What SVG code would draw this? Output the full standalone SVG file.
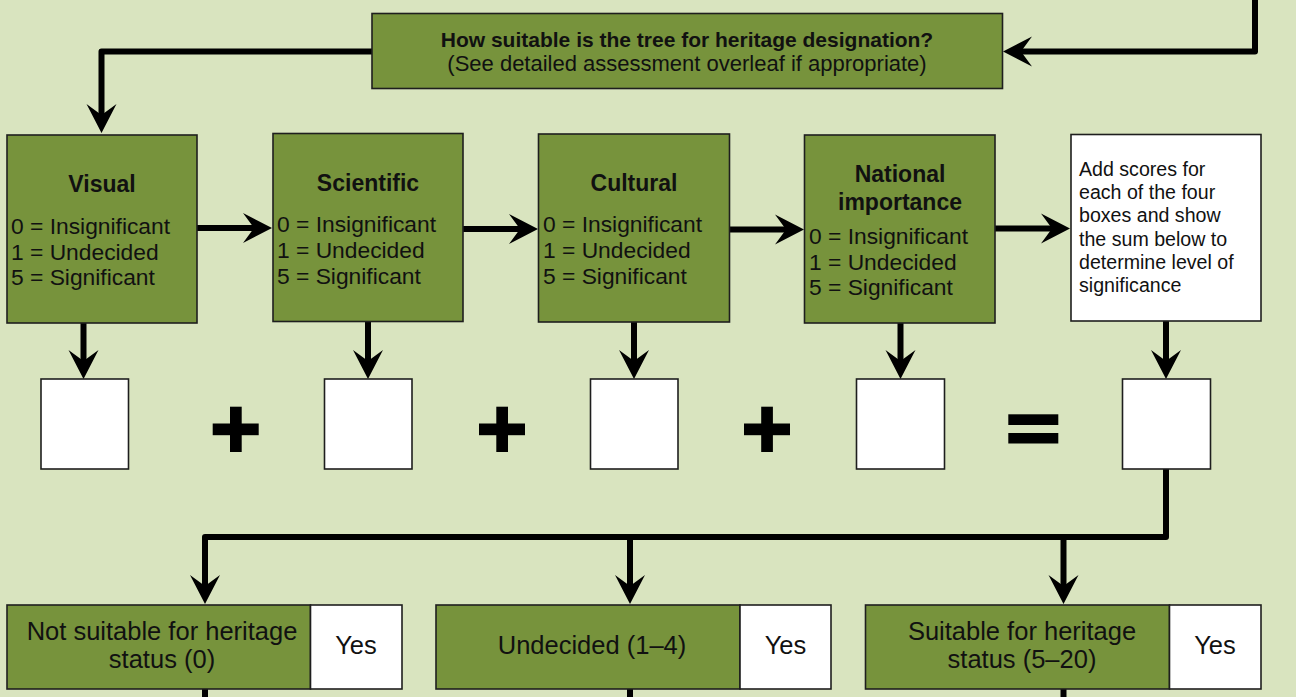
<svg xmlns="http://www.w3.org/2000/svg" width="1296" height="697" viewBox="0 0 1296 697">
  <defs>
    <style>
      .bg { fill: #d9e4bf; }
      .box { fill: #77933c; stroke: #1e1e1e; stroke-width: 1.6; }
      .wbox { fill: #ffffff; stroke: #1e1e1e; stroke-width: 1.6; }
      .wire { fill: none; stroke: #000; stroke-width: 6; stroke-linejoin: round; }
      .op { fill: #000; }
      text { font-family: "Liberation Sans", Arial, sans-serif; fill: #111; }
      .head { font-size: 23px; font-weight: bold; text-anchor: middle; }
      .opt { font-size: 22.8px; }
      .note { font-size: 19.6px; }
      .q1 { font-size: 21px; font-weight: bold; text-anchor: middle; }
      .q2 { font-size: 22px; text-anchor: middle; }
      .res { font-size: 25.5px; text-anchor: middle; }
    </style>
    <!-- concave arrowhead; the path end sits 17px behind the tip -->
    <marker id="arrow" markerUnits="userSpaceOnUse" markerWidth="40" markerHeight="40" refX="0" refY="0" orient="auto" overflow="visible" viewBox="-20 -20 40 40">
      <path d="M17,0 L-12,-15 L-1,0 L-12,15 Z" fill="#000"/>
    </marker>
  </defs>

  <rect class="bg" x="0" y="0" width="1296" height="697"/>

  <!-- connectors -->
  <g id="connectors">
    <path class="wire" d="M1255,0 V51.5 H1020" marker-end="url(#arrow)"/>
    <path class="wire" d="M372,51.5 H101.5 V116" marker-end="url(#arrow)"/>
    <path class="wire" d="M197,228 H255" marker-end="url(#arrow)"/>
    <path class="wire" d="M463,229 H521" marker-end="url(#arrow)"/>
    <path class="wire" d="M729,229.5 H787" marker-end="url(#arrow)"/>
    <path class="wire" d="M995,228.5 H1053" marker-end="url(#arrow)"/>
    <path class="wire" d="M83.5,323 V362" marker-end="url(#arrow)"/>
    <path class="wire" d="M368,321 V362" marker-end="url(#arrow)"/>
    <path class="wire" d="M634,322 V362" marker-end="url(#arrow)"/>
    <path class="wire" d="M900.5,323 V362" marker-end="url(#arrow)"/>
    <path class="wire" d="M1166,321 V362" marker-end="url(#arrow)"/>
    <path class="wire" d="M1166,469 V537 H205 V587" marker-end="url(#arrow)"/>
    <path class="wire" d="M630,537 V587" marker-end="url(#arrow)"/>
    <path class="wire" d="M1063.5,537 V587" marker-end="url(#arrow)"/>
    <path class="wire" d="M205,689 V697"/>
    <path class="wire" d="M630,689 V697"/>
    <path class="wire" d="M1063.5,689 V697"/>
  </g>

  <g id="question">
    <rect class="box" x="372" y="13.5" width="630.5" height="75"/>
    <text class="q1" x="687" y="47">How suitable is the tree for heritage designation?</text>
    <text class="q2" x="687" y="71">(See detailed assessment overleaf if appropriate)</text>
  </g>

  <g id="visual">
    <rect class="box" x="7" y="135" width="190" height="188"/>
    <text class="head" x="102" y="192">Visual</text>
    <text class="opt" x="11" y="234">0 = Insignificant</text>
    <text class="opt" x="11" y="259.5">1 = Undecided</text>
    <text class="opt" x="11" y="285">5 = Significant</text>
  </g>

  <g id="scientific">
    <rect class="box" x="273" y="133.5" width="190" height="188"/>
    <text class="head" x="368" y="191">Scientific</text>
    <text class="opt" x="277" y="232">0 = Insignificant</text>
    <text class="opt" x="277" y="258">1 = Undecided</text>
    <text class="opt" x="277" y="283.5">5 = Significant</text>
  </g>

  <g id="cultural">
    <rect class="box" x="538.5" y="134" width="191" height="188"/>
    <text class="head" x="634" y="191">Cultural</text>
    <text class="opt" x="543" y="232">0 = Insignificant</text>
    <text class="opt" x="543" y="258">1 = Undecided</text>
    <text class="opt" x="543" y="283.5">5 = Significant</text>
  </g>

  <g id="national">
    <rect class="box" x="804.5" y="135" width="190.5" height="188"/>
    <text class="head" x="900" y="182">National</text>
    <text class="head" x="900" y="210">importance</text>
    <text class="opt" x="809" y="244">0 = Insignificant</text>
    <text class="opt" x="809" y="269.5">1 = Undecided</text>
    <text class="opt" x="809" y="295">5 = Significant</text>
  </g>

  <g id="sum-note">
    <rect class="wbox" x="1071" y="134.5" width="190" height="186.5"/>
    <text class="note" x="1079" y="176">Add scores for</text>
    <text class="note" x="1079" y="199">each of the four</text>
    <text class="note" x="1079" y="222">boxes and show</text>
    <text class="note" x="1079" y="246">the sum below to</text>
    <text class="note" x="1079" y="269">determine level of</text>
    <text class="note" x="1079" y="292">significance</text>
  </g>

  <!-- score boxes and operators -->
  <g id="score-visual"><rect class="wbox" x="41" y="379" width="87.5" height="90"/></g>
  <g id="plus-1" class="op">
    <rect x="212.7" y="423.5" width="46" height="11.7"/>
    <rect x="230" y="406.7" width="11.7" height="45.3"/>
  </g>
  <g id="score-scientific"><rect class="wbox" x="324.5" y="379" width="87.5" height="90"/></g>
  <g id="plus-2" class="op">
    <rect x="479" y="423.5" width="46" height="11.7"/>
    <rect x="496.3" y="406.7" width="11.7" height="45.3"/>
  </g>
  <g id="score-cultural"><rect class="wbox" x="590.5" y="379" width="87.5" height="90"/></g>
  <g id="plus-3" class="op">
    <rect x="744" y="423.5" width="46" height="11.7"/>
    <rect x="761.2" y="406.7" width="11.7" height="45.3"/>
  </g>
  <g id="score-national"><rect class="wbox" x="856.5" y="379" width="88" height="90"/></g>
  <g id="equals" class="op">
    <rect x="1008.3" y="414.3" width="50" height="10.7"/>
    <rect x="1008.3" y="433" width="50" height="10.5"/>
  </g>
  <g id="score-total"><rect class="wbox" x="1122.5" y="379" width="88" height="90"/></g>

  <!-- outcomes -->
  <g id="not-suitable">
    <rect class="box" x="7" y="605" width="303.5" height="84"/>
    <rect class="wbox" x="310.5" y="605" width="91.5" height="84"/>
    <text class="res" x="162" y="640">Not suitable for heritage</text>
    <text class="res" x="162" y="668">status (0)</text>
    <text class="res" x="356" y="654">Yes</text>
  </g>

  <g id="undecided">
    <rect class="box" x="436" y="605" width="304" height="84"/>
    <rect class="wbox" x="740" y="605" width="91" height="84"/>
    <text class="res" x="592" y="654">Undecided (1–4)</text>
    <text class="res" x="785.5" y="654">Yes</text>
  </g>

  <g id="suitable">
    <rect class="box" x="865.5" y="605" width="304" height="84"/>
    <rect class="wbox" x="1169.5" y="605" width="91.5" height="84"/>
    <text class="res" x="1022" y="640">Suitable for heritage</text>
    <text class="res" x="1022" y="668">status (5–20)</text>
    <text class="res" x="1215" y="654">Yes</text>
  </g>
</svg>
